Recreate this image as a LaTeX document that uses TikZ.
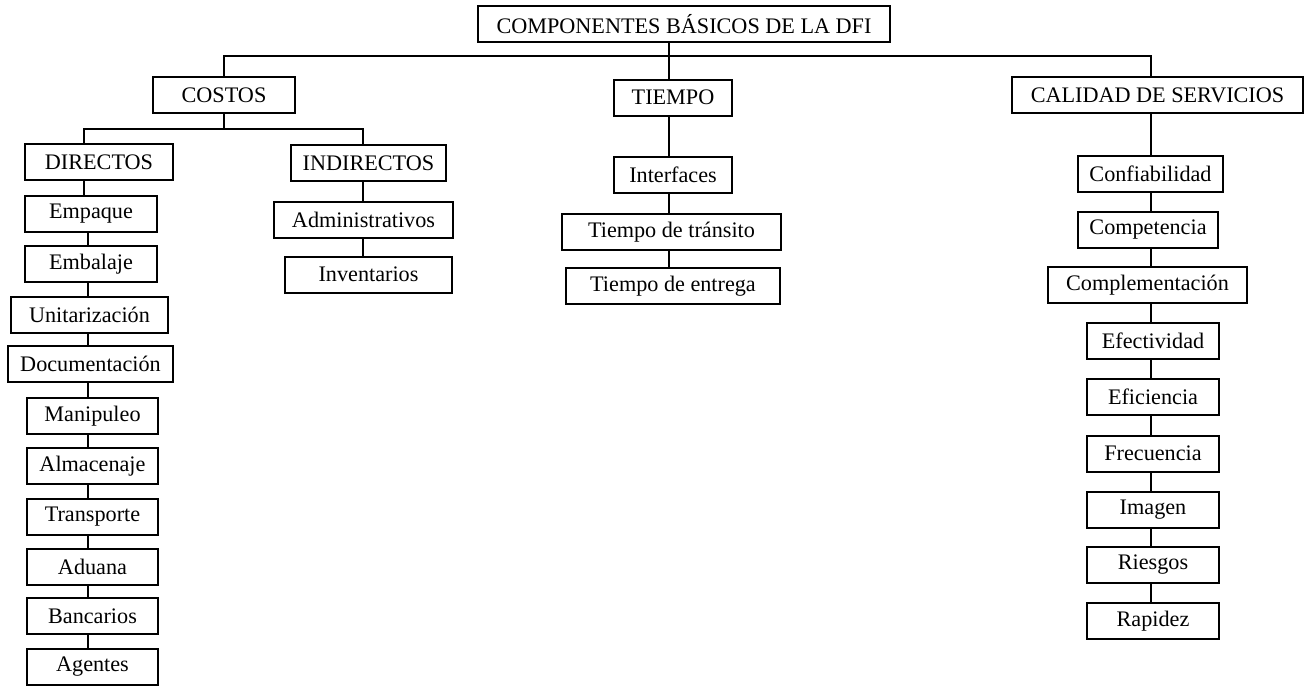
\documentclass[tikz,border=0pt]{standalone}
\usepackage{fontspec}
\setmainfont{Liberation Serif}
\usetikzlibrary{calc}

\begin{document}
\begin{tikzpicture}[x=0.5pt, y=-0.5pt,
    caja/.style={draw, line width=1pt, minimum height=18pt, inner sep=0pt,
      font=\fontsize{11.1}{13}\selectfont},
    enlace/.style={line width=1pt}]
  \useasboundingbox (0,0) rectangle (1309,686);

  % raiz y tres ramas
  \node[caja, minimum width=206pt] (dfi) at (684,24) {COMPONENTES BÁSICOS DE LA DFI};
  \node[caja, minimum width=71pt] (costos) at (224,95) {COSTOS};
  \node[caja, minimum width=59pt] (tiempo) at (673,97.5) {TIEMPO};
  \node[caja, minimum width=145.5pt] (calidad) at (1157.5,95) {CALIDAD DE SERVICIOS};

  % costos directos e indirectos
  \node[caja, minimum width=74pt] (directos) at (99,162) {DIRECTOS};
  \node[caja, minimum width=77.5pt] (indirectos) at (368.5,163) {INDIRECTOS};

  \foreach \nom/\txt/\x/\y/\w in {
      empaque/Empaque/91/214/66,
      embalaje/Embalaje/91/264/66,
      unitar/Unitarización/89.5/314.5/78.5,
      docum/Documentación/90.5/364/82.5,
      manip/Manipuleo/92.5/416/65.5,
      almac/Almacenaje/92.5/466/65.5,
      transp/Transporte/92.5/517/65.5,
      aduana/Aduana/92.5/566.5/65.5,
      bancos/Bancarios/92.5/616/65.5,
      agentes/Agentes/92.5/667/65.5}
    \node[caja, minimum width=\w pt] (\nom) at (\x,\y) {\txt};

  \node[caja, minimum width=89.5pt] (admin) at (363.5,219.5) {Administrativos};
  \node[caja, minimum width=83.5pt] (invent) at (368.5,274.5) {Inventarios};

  % tiempo
  \node[caja, minimum width=59pt] (interf) at (673,175) {Interfaces};
  \node[caja, minimum width=109.5pt] (transito) at (671.5,232) {Tiempo de tránsito};
  \node[caja, minimum width=107pt] (entrega) at (673,286) {Tiempo de entrega};

  % calidad de servicios
  \node[caja, minimum width=72.5pt] (confia) at (1150.5,173.5) {Confiabilidad};
  \node[caja, minimum width=70pt] (compet) at (1148,229.5) {Competencia};
  \node[caja, minimum width=99.5pt] (complem) at (1147.5,285) {Complementación};
  \foreach \nom/\txt/\y in {
      efect/Efectividad/341,
      efic/Eficiencia/397,
      frec/Frecuencia/453.5,
      imagen/Imagen/509.5,
      riesgos/Riesgos/565,
      rapidez/Rapidez/621}
    \node[caja, minimum width=66pt] (\nom) at (1153,\y) {\txt};

  % ejes de las columnas
  \coordinate (bus) at (668,56);
  \coordinate (cbus) at (224,129);
  \coordinate (dspine) at (88,0);
  \coordinate (ispine) at (363,0);
  \coordinate (tspine) at (669,0);
  \coordinate (qspine) at (1151,0);

  % conexiones
  \draw[enlace] (costos.north) |- (bus) -| (calidad.north -| qspine);
  \draw[enlace] (dfi.south -| tspine) -- (tiempo.north -| tspine);
  \draw[enlace] (costos.south) -- (cbus);
  \draw[enlace] (directos.north -| 84,0) |- (cbus) -| (indirectos.north -| ispine);

  \draw[enlace] (directos.south -| 84,0) -- (empaque.north -| 84,0);
  \foreach \a/\b in {empaque/embalaje, embalaje/unitar, unitar/docum, docum/manip,
      manip/almac, almac/transp, transp/aduana, aduana/bancos, bancos/agentes}
    \draw[enlace] (\a.south -| dspine) -- (\b.north -| dspine);

  \foreach \a/\b in {indirectos/admin, admin/invent}
    \draw[enlace] (\a.south -| ispine) -- (\b.north -| ispine);

  \foreach \a/\b in {tiempo/interf, interf/transito, transito/entrega}
    \draw[enlace] (\a.south -| tspine) -- (\b.north -| tspine);

  \foreach \a/\b in {calidad/confia, confia/compet, compet/complem, complem/efect,
      efect/efic, efic/frec, frec/imagen, imagen/riesgos, riesgos/rapidez}
    \draw[enlace] (\a.south -| qspine) -- (\b.north -| qspine);
\end{tikzpicture}
\end{document}
